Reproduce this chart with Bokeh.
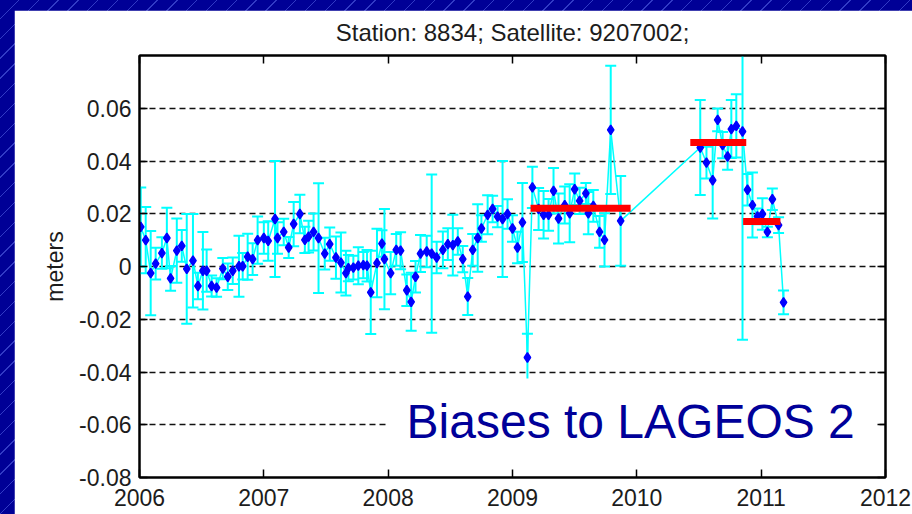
from bokeh.plotting import figure
from bokeh.models import (Range1d, FixedTicker, LinearAxis, ColumnDataSource, Label,
                          CustomJSTickFormatter, BoxAnnotation)
from bokeh.embed import file_html
from bokeh.resources import INLINE

# ---------------- data ----------------
years = [2006.01, 2006.05, 2006.09, 2006.13, 2006.18, 2006.22, 2006.25, 2006.30, 2006.34, 2006.38,
         2006.43, 2006.47, 2006.51, 2006.54, 2006.58, 2006.62, 2006.67, 2006.71, 2006.75, 2006.80,
         2006.83, 2006.87, 2006.91, 2006.95, 2007.00, 2007.035, 2007.09, 2007.11, 2007.16, 2007.20,
         2007.24, 2007.29, 2007.33, 2007.36, 2007.40, 2007.44, 2007.49, 2007.53, 2007.58, 2007.62,
         2007.66, 2007.68, 2007.72, 2007.76, 2007.80, 2007.83, 2007.86, 2007.91, 2007.95, 2007.97,
         2008.02, 2008.065, 2008.10, 2008.15, 2008.185, 2008.22, 2008.26, 2008.31, 2008.35, 2008.39,
         2008.44, 2008.48, 2008.52, 2008.56, 2008.60, 2008.64, 2008.68, 2008.72, 2008.75, 2008.80,
         2008.84, 2008.88, 2008.92, 2008.96, 2009.00, 2009.04, 2009.08, 2009.12, 2009.16, 2009.21,
         2009.25, 2009.29, 2009.33, 2009.37, 2009.42, 2009.46, 2009.50, 2009.54, 2009.59, 2009.61,
         2009.65, 2009.70, 2009.74, 2009.79, 2009.87, 2010.51, 2010.56, 2010.61, 2010.65, 2010.69,
         2010.73, 2010.76, 2010.80, 2010.85, 2010.89, 2010.93, 2010.97, 2011.01, 2011.05, 2011.09,
         2011.14, 2011.18]
bias = [0.0150, 0.0100, -0.0025, 0.0011, 0.0051, 0.0108, -0.0045, 0.0060, 0.0078, -0.0009,
        0.0022, -0.0074, -0.0016, -0.0016, -0.0074, -0.0080, -0.0008, -0.0039, -0.0016, 0.0001,
        0.0001, 0.0037, 0.0028, 0.0100, 0.0108, 0.0097, 0.0180, 0.0108, 0.0131, 0.0072,
        0.0161, 0.0199, 0.0101, 0.0113, 0.0131, 0.0108, 0.0049, 0.0085, 0.0034, 0.0015,
        -0.0025, -0.0006, -0.0004, 0.0003, 0.0005, 0.0003, -0.0098, 0.0013, 0.0087, 0.0028,
        -0.0025, 0.0063, 0.0060, -0.0090, -0.0134, -0.0039, 0.0049, 0.0057, 0.0049, 0.0034,
        0.0063, 0.0085, 0.0081, 0.0095, 0.0028, -0.0114, 0.0063, 0.0108, 0.0144, 0.0196,
        0.0218, 0.0189, 0.0180, 0.0199, 0.0144, 0.0072, 0.0167, -0.0345, 0.0300, 0.0218,
        0.0196, 0.0196, 0.0287, 0.0182, 0.0233, 0.0202, 0.0293, 0.0249, 0.0277, 0.0202,
        0.0230, 0.0131, 0.0101, 0.0518, 0.0173, 0.0451, 0.0394, 0.0327, 0.0556, 0.0460,
        0.0417, 0.0521, 0.0533, 0.0512, 0.0291, 0.0233, 0.0190, 0.0199, 0.0131, 0.0255,
        0.0157, -0.0136]
err = [0.0150, 0.0126, 0.0160, 0.0060, 0.0060, 0.0115, 0.0047, 0.0122, 0.0060, 0.0208,
       0.0177, 0.0050, 0.0147, 0.0080, 0.0040, 0.0035, 0.0040, 0.0050, 0.0050, 0.0116,
       0.0050, 0.0087, 0.0060, 0.0090, 0.0060, 0.0075, 0.0220, 0.0060, 0.0050, 0.0040,
       0.0084, 0.0073, 0.0050, 0.0060, 0.0070, 0.0208, 0.0060, 0.0063, 0.0080, 0.0114,
       0.0085, 0.0050, 0.0045, 0.0070, 0.0050, 0.0060, 0.0158, 0.0130, 0.0050, 0.0190,
       0.0080, 0.0060, 0.0070, 0.0060, 0.0110, 0.0060, 0.0070, 0.0060, 0.0300, 0.0060,
       0.0070, 0.0060, 0.0115, 0.0050, 0.0050, 0.0070, 0.0060, 0.0128, 0.0050, 0.0074,
       0.0050, 0.0040, 0.0220, 0.0056, 0.0050, 0.0060, 0.0150, 0.0090, 0.0078, 0.0080,
       0.0090, 0.0060, 0.0086, 0.0095, 0.0070, 0.0110, 0.0060, 0.0050, 0.0040, 0.0080,
       0.0060, 0.0060, 0.0101, 0.0243, 0.0170, 0.0180, 0.0060, 0.0145, 0.0043, 0.0050,
       0.0050, 0.0110, 0.0120, 0.0790, 0.0060, 0.0123, 0.0030, 0.0060, 0.0020, 0.0041,
       0.0030, 0.0045]

# mean-bias segments (red bars)
seg_start = [2009.145, 2010.43, 2010.855]
seg_end = [2009.95, 2010.88, 2011.155]
seg_bias = [0.0221, 0.0470, 0.0171]

x_ticks = [2006, 2007, 2008, 2009, 2010, 2011, 2012]
y_ticks = [-0.08, -0.06, -0.04, -0.02, 0.0, 0.02, 0.04, 0.06]

title_text = "Station: 8834; Satellite: 9207002;"
y_label = "meters"
note_text = "Biases to LAGEOS 2"

# ---------------- styles ----------------
FONT = "Liberation Sans"
TXT = "#1c1c1c"
CYAN = "#00FFFF"

lower = [b - e for b, e in zip(bias, err)]
upper = [b + e for b, e in zip(bias, err)]
src = ColumnDataSource(dict(x=years, y=bias, lower=lower, upper=upper))
seg_src = ColumnDataSource(dict(x0=seg_start, x1=seg_end, y=seg_bias))

p = figure(width=898, height=504, x_range=Range1d(2006, 2012), y_range=Range1d(-0.08, 0.08),
           output_backend="svg", toolbar_location=None,
           min_border_left=125, min_border_right=27, min_border_top=45, min_border_bottom=37,
           background_fill_color="white", border_fill_color="white")
p.margin = (10, 0, 0, 14)

p.title.text = title_text
p.title.align = "center"
p.title.vertical_align = "top"
p.title.text_font = FONT
p.title.text_font_size = "24px"
p.title.text_font_style = "normal"
p.title.text_color = TXT
p.title.standoff = 15

p.outline_line_color = "black"
p.outline_line_width = 2

xt = FixedTicker(ticks=x_ticks)
yt = FixedTicker(ticks=y_ticks)
fmt = CustomJSTickFormatter(code="return Math.abs(tick) < 1e-9 ? '0' : tick.toFixed(2);")

for ax in (p.xaxis[0], p.yaxis[0]):
    ax.major_tick_in = 8
    ax.major_tick_out = 0
    ax.minor_tick_line_color = None
    ax.axis_line_color = "black"
    ax.axis_line_width = 2
    ax.major_tick_line_width = 1.5
    ax.major_label_text_font = FONT
    ax.major_label_text_font_size = "23px"
    ax.major_label_text_color = TXT

p.xaxis[0].ticker = xt
p.xaxis[0].major_label_standoff = 11
p.yaxis[0].ticker = yt
p.yaxis[0].formatter = fmt
p.yaxis[0].major_label_standoff = 8
p.yaxis[0].axis_label = y_label
p.yaxis[0].axis_label_text_font = FONT
p.yaxis[0].axis_label_text_font_size = "23px"
p.yaxis[0].axis_label_text_font_style = "normal"
p.yaxis[0].axis_label_text_color = TXT
p.yaxis[0].axis_label_standoff = 8

# tick marks on the top and right edges (no labels there)
for side, tk in (("above", xt), ("right", yt)):
    ax = LinearAxis(ticker=tk, major_tick_in=8, major_tick_out=0, minor_tick_line_color=None,
                    major_label_text_font_size="1px", major_label_text_color=None,
                    major_label_standoff=0,
                    axis_line_color="black", axis_line_width=2, major_tick_line_width=1.5)
    p.add_layout(ax, side)

p.xgrid.visible = False
p.ygrid.ticker = yt
p.ygrid.grid_line_color = "#111111"
p.ygrid.grid_line_dash = "6 4"
p.ygrid.grid_line_width = 1.5

# connecting line, error bars, caps, markers, mean bars
p.line("x", "y", source=src, line_color=CYAN, line_width=1.5)
p.segment(x0="x", y0="lower", x1="x", y1="upper", source=src, line_color=CYAN, line_width=2)
p.scatter("x", "lower", source=src, marker="dash", size=11, line_color=CYAN, line_width=2)
p.scatter("x", "upper", source=src, marker="dash", size=11, line_color=CYAN, line_width=2)
p.scatter("x", "y", source=src, marker="diamond", size=9.5, fill_color="#0000FF",
          line_color="#0000FF", line_width=1.5)
p.segment(x0="x0", y0="y", x1="x1", y1="y", source=seg_src, line_color="#FF0000",
          line_width=7, line_cap="butt")

# white box behind the slide's note, then the note itself
note_bg = BoxAnnotation(left=2007.99, right=2011.93, top=-0.0425, bottom=-0.0735,
                        fill_color="white", fill_alpha=1.0, line_color=None)
p.add_layout(note_bg)
note = Label(x=2008.148, y=-0.0587, text=note_text, text_font=FONT,
             text_font_size="48px", text_color="#000099", text_baseline="alphabetic",
             text_align="left")
p.add_layout(note)

html = file_html(p, INLINE)
css = ("<style>html,body{margin:0!important;padding:0;overflow:hidden;"
       "background-color:#000096;"
       "background-image:repeating-linear-gradient(135deg, rgba(0,0,0,0) 0px, rgba(0,0,0,0) 13px,"
       " rgba(110,130,255,0.45) 13px, rgba(110,130,255,0.45) 14px);}</style></head>")
html = html.replace("</head>", css, 1)
open("out.html", "w").write(html)
